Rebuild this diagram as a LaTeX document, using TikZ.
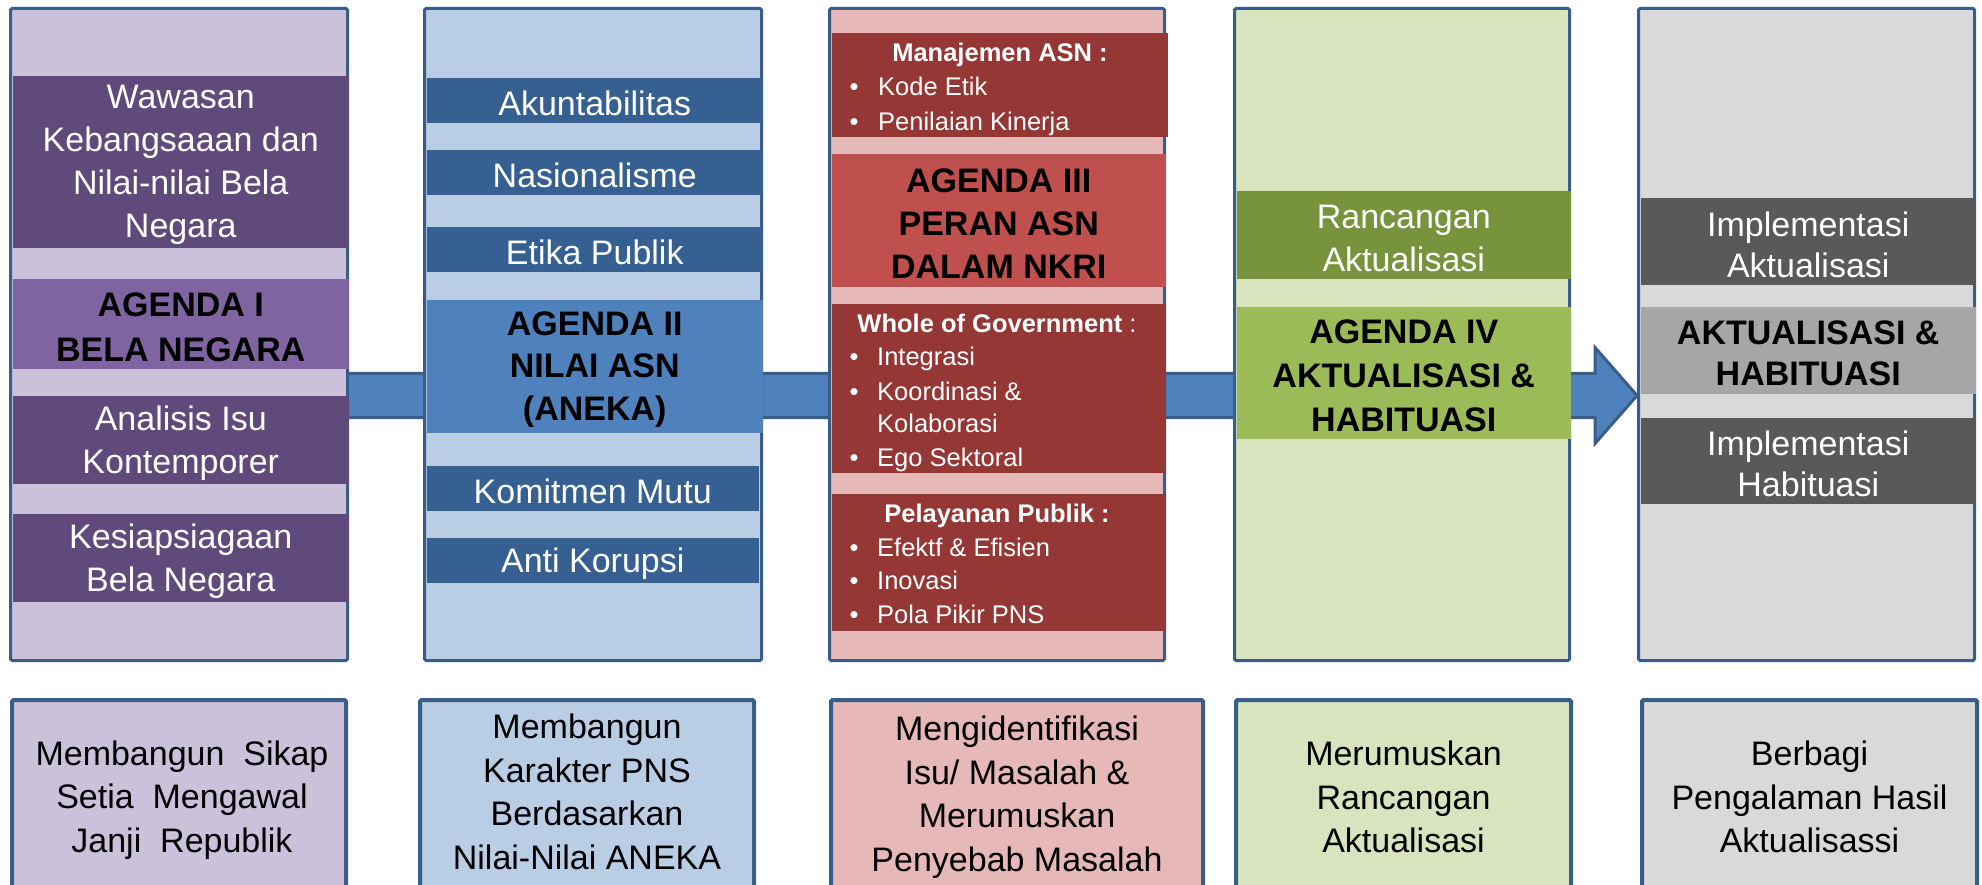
\documentclass[tikz,border=0pt]{standalone}
\usepackage{fontspec}
\setmainfont{Liberation Sans}
\definecolor{bord}{HTML}{385D8A}
\definecolor{lav}{HTML}{CCC1DA}
\definecolor{purD}{HTML}{604A7B}
\definecolor{purM}{HTML}{8064A2}
\definecolor{bluL}{HTML}{B9CDE5}
\definecolor{bluD}{HTML}{366092}
\definecolor{bluM}{HTML}{4F81BD}
\definecolor{redL}{HTML}{E6B9B8}
\definecolor{redD}{HTML}{953735}
\definecolor{redM}{HTML}{C0504D}
\definecolor{grnL}{HTML}{D7E4BD}
\definecolor{grnD}{HTML}{77933C}
\definecolor{grnM}{HTML}{9BBB59}
\definecolor{gryL}{HTML}{D9D9D9}
\definecolor{gryD}{HTML}{595959}
\definecolor{gryM}{HTML}{A6A6A6}
\begin{document}
\begin{tikzpicture}[x=1pt,y=-1pt,
  colbox/.style={draw=bord, line width=3pt, rounded corners=1.5pt, inner sep=0pt, outer sep=0pt, minimum height=652pt},
  botbox/.style={draw=bord, line width=4pt, rounded corners=1.5pt, inner sep=0pt, outer sep=0pt, minimum height=190pt},
  bottxt/.style={inner sep=0pt, align=center, text=black, font=\fontsize{34}{43.5}\selectfont},
  band/.style={inner sep=0pt, outer sep=0pt},
  btxt/.style={inner sep=0pt, align=center, text=white, yshift=-3pt, font=\fontsize{34}{43}\selectfont},
  agtxt/.style={btxt, text=black, font=\fontsize{34}{44}\selectfont\bfseries},
  smhead/.style={inner sep=0pt, anchor=base, text=white, font=\fontsize{25.5}{30}\selectfont\bfseries},
  smitem/.style={inner sep=0pt, anchor=base west, text=white, font=\fontsize{25.5}{30}\selectfont},
  smbul/.style={inner sep=0pt, anchor=base, text=white, font=\fontsize{25.5}{30}\selectfont},
  bigarrow/.style={fill=bluM, draw=bord, line width=3pt, line join=miter}
]
\useasboundingbox (0,0) rectangle (1982,885);
\clip (0,0) rectangle (1982,885);
\fill[white] (0,0) rectangle (1982,885);

% ---- big arrow behind columns
\coordinate (a1) at (200,373.5);
\coordinate (a2) at (1595,373.5);
\coordinate (a3) at (1595,347.5);
\coordinate (a4) at (1637,395.5);
\coordinate (a5) at (1595,443.5);
\coordinate (a6) at (1595,417.5);
\coordinate (a7) at (200,417.5);
\draw[bigarrow] (a1) -- (a2) -- (a3) -- (a4) -- (a5) -- (a6) -- (a7) -- cycle;

% ---- column frames
\node[colbox, fill=lav,  minimum width=337pt] (c1) at (179,334.5) {};
\node[colbox, fill=bluL, minimum width=337pt] (c2) at (593,334.5) {};
\node[colbox, fill=redL, minimum width=335pt] (c3) at (997,334.5) {};
\node[colbox, fill=grnL, minimum width=335pt] (c4) at (1402,334.5) {};
\node[colbox, fill=gryL, minimum width=336pt] (c5) at (1806.5,334.5) {};

% ---- column 1
\node[band, fill=purD, minimum width=336.5pt, minimum height=172pt] (c1a) at (180.75,162) {};
\node[band, fill=purM, minimum width=336.5pt, minimum height=90pt] (c1b) at (180.75,324) {};
\node[band, fill=purD, minimum width=336.5pt, minimum height=88pt] (c1c) at (180.75,440) {};
\node[band, fill=purD, minimum width=336.5pt, minimum height=88pt] (c1d) at (180.75,558) {};
\node[btxt] (c1at) at (c1a.center) {Wawasan\\Kebangsaaan dan\\Nilai-nilai Bela\\Negara};
\node[agtxt, font=\fontsize{34}{45}\selectfont\bfseries] (c1bt) at (c1b.center) {AGENDA I\\BELA NEGARA};
\node[btxt] (c1ct) at (c1c.center) {Analisis Isu\\Kontemporer};
\node[btxt] (c1dt) at (c1d.center) {Kesiapsiagaan\\Bela Negara};

% ---- column 2
\node[band, fill=bluD, minimum width=336.5pt, minimum height=45pt] (c2a) at (594.75,100.5) {};
\node[band, fill=bluD, minimum width=336.5pt, minimum height=45pt] (c2b) at (594.75,172.5) {};
\node[band, fill=bluD, minimum width=336.5pt, minimum height=45pt] (c2c) at (594.75,249.5) {};
\node[band, fill=bluM, minimum width=336.5pt, minimum height=133pt] (c2d) at (594.75,366.5) {};
\node[band, fill=bluD, minimum width=332.5pt, minimum height=45pt] (c2e) at (592.75,488.5) {};
\node[band, fill=bluD, minimum width=332.5pt, minimum height=45pt] (c2f) at (592.75,560.5) {};
\node[btxt] (c2at) at (c2a.center) {Akuntabilitas};
\node[btxt] (c2bt) at (c2b.center) {Nasionalisme};
\node[btxt] (c2ct) at (c2c.center) {Etika Publik};
\node[agtxt, font=\fontsize{34}{42.5}\selectfont\bfseries] (c2dt) at (c2d.center) {AGENDA II\\NILAI ASN\\(ANEKA)};
\node[btxt] (c2et) at (c2e.center) {Komitmen Mutu};
\node[btxt] (c2ft) at (c2f.center) {Anti Korupsi};

% ---- column 3
\node[band, fill=redD, minimum width=336.5pt, minimum height=104pt] (c3a) at (999.75,85) {};
\node[band, fill=redM, minimum width=334.5pt, minimum height=133pt] (c3b) at (998.75,220.5) {};
\node[band, fill=redD, minimum width=334.5pt, minimum height=169pt] (c3c) at (998.75,388.5) {};
\node[band, fill=redD, minimum width=334.5pt, minimum height=137pt] (c3d) at (998.75,562.5) {};
\node[agtxt, font=\fontsize{34}{43}\selectfont\bfseries] (c3bt) at (c3b.center) {AGENDA III\\PERAN ASN\\DALAM NKRI};

\node[smhead] (m0) at (1000,62) {Manajemen ASN :};
\node[smbul] (m1b) at (854,96) {•};
\node[smitem] (m1) at (878,96) {Kode Etik};
\node[smbul] (m2b) at (854,131) {•};
\node[smitem] (m2) at (878,131) {Penilaian Kinerja};

\node[smhead] (w0) at (997,333) {Whole of Government\mdseries\ :};
\node[smbul] (w1b) at (854,366) {•};
\node[smitem] (w1) at (877,366) {Integrasi};
\node[smbul] (w2b) at (854,400) {•};
\node[smitem] (w2) at (877,400) {Koordinasi \&};
\node[smitem] (w3) at (877,432) {Kolaborasi};
\node[smbul] (w4b) at (854,466) {•};
\node[smitem] (w4) at (877,466) {Ego Sektoral};

\node[smhead] (p0) at (997,522) {Pelayanan Publik :};
\node[smbul] (p1b) at (854,556) {•};
\node[smitem] (p1) at (877,556) {Efektf \& Efisien};
\node[smbul] (p2b) at (854,589) {•};
\node[smitem] (p2) at (877,589) {Inovasi};
\node[smbul] (p3b) at (854,623) {•};
\node[smitem] (p3) at (877,623) {Pola Pikir PNS};

% ---- column 4
\node[band, fill=grnD, minimum width=334.5pt, minimum height=88pt] (c4a) at (1403.75,235) {};
\node[band, fill=grnM, minimum width=334.5pt, minimum height=132pt] (c4b) at (1403.75,373) {};
\node[btxt] (c4at) at (c4a.center) {Rancangan\\Aktualisasi};
\node[agtxt] (c4bt) at (c4b.center) {AGENDA IV\\AKTUALISASI \&\\HABITUASI};

% ---- column 5
\node[band, fill=gryD, minimum width=335.5pt, minimum height=87pt] (c5a) at (1808.25,241.5) {};
\node[band, fill=gryM, minimum width=335.5pt, minimum height=87pt] (c5b) at (1808.25,350.5) {};
\node[band, fill=gryD, minimum width=335.5pt, minimum height=86pt] (c5c) at (1808.25,461) {};
\node[btxt, font=\fontsize{34}{41}\selectfont] (c5at) at (c5a.center) {Implementasi\\Aktualisasi};
\node[agtxt, font=\fontsize{34}{41}\selectfont\bfseries] (c5bt) at (c5b.center) {AKTUALISASI \&\\HABITUASI};
\node[btxt, font=\fontsize{34}{41}\selectfont] (c5ct) at (c5c.center) {Implementasi\\Habituasi};

% ---- bottom boxes
\node[botbox, fill=lav,  minimum width=334pt] (b1) at (179,795) {};
\node[botbox, fill=bluL, minimum width=334pt] (b2) at (587,795) {};
\node[botbox, fill=redL, minimum width=372pt] (b3) at (1017,795) {};
\node[botbox, fill=grnL, minimum width=335pt] (b4) at (1403.5,795) {};
\node[botbox, fill=gryL, minimum width=335pt] (b5) at (1809.5,795) {};

\node[bottxt] (t1) at (182,800) {Membangun\ \ Sikap\\Setia\ \ Mengawal\\Janji\ \ Republik};
\node[bottxt] (t2) at (587,792) {Membangun\\Karakter PNS\\Berdasarkan\\Nilai-Nilai ANEKA};
\node[bottxt] (t3) at (1017,797) {Mengidentifikasi\\Isu/ Masalah \&\\Merumuskan\\Penyebab Masalah};
\node[bottxt] (t4) at (1403.5,797) {Merumuskan\\Rancangan\\Aktualisasi};
\node[bottxt] (t5) at (1809.5,797) {Berbagi\\Pengalaman Hasil\\Aktualisassi};
\end{tikzpicture}
\end{document}
